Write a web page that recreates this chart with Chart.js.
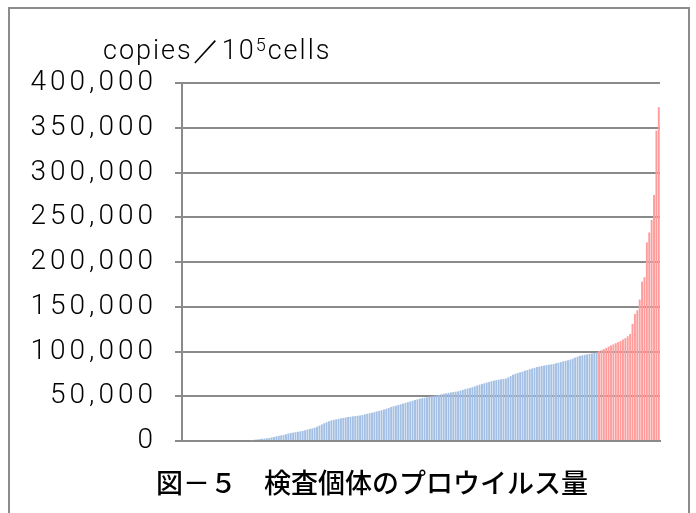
<!DOCTYPE html>
<html>
<head>
<meta charset="utf-8">
<script src="https://cdn.jsdelivr.net/npm/chart.js@4/dist/chart.umd.min.js"></script>
<style>
  html, body { margin: 0; padding: 0; background: #fff; }
  #wrap { position: relative; width: 696px; height: 513px; }
</style>
</head>
<body>
<div id="wrap"><canvas id="c" width="696" height="513"></canvas></div>
<script>
// Proviral load of each tested animal, sorted ascending (copies per 10^5 cells)
const provirusLoad = [
  0, 0, 0, 0, 0, 0, 0, 0, 0, 0,
  0, 0, 0, 0, 0, 0, 0, 0, 0, 0,
  0, 0, 0, 0, 0, 0, 0, 0, 0, 800,
  1500, 1800, 2200, 2500, 2800, 3000, 3400, 4000, 4500, 5200,
  5800, 6300, 6800, 7500, 8400, 9000, 9400, 9800, 10300, 10800,
  11300, 12000, 12800, 13500, 14100, 14800, 16000, 17200, 18500, 19800,
  21000, 22200, 23000, 23600, 24200, 24800, 25300, 25800, 26300, 26800,
  27100, 27500, 27900, 28200, 28500, 29000, 29800, 30500, 31100, 31700,
  32300, 33000, 33600, 34300, 35200, 36000, 37000, 38000, 38800, 39500,
  40300, 41000, 41800, 42600, 43400, 44200, 45000, 45800, 46500, 47200,
  47800, 48400, 49000, 49600, 50100, 50500, 51000, 51500, 52200, 52800,
  53300, 53800, 54200, 54700, 55100, 55500, 56300, 57100, 58000, 58700,
  59300, 60200, 61000, 62000, 63000, 63700, 64500, 65300, 66000, 66800,
  67500, 68000, 68500, 69000, 69400, 69800, 71000, 72500, 74000, 75000,
  76000, 76800, 77600, 78500, 79300, 80200, 81000, 81800, 82600, 83200,
  83800, 84300, 84800, 85200, 85600, 86000, 86800, 87500, 88200, 89000,
  89500, 90200, 91000, 92000, 93200, 94300, 95200, 95800, 96300, 96800,
  97300, 97800, 98400, 99000, 100300, 101500, 102800, 104000, 105500, 106800,
  108000, 109300, 110500, 111800, 113500, 115000, 117000, 119500, 131000, 142000,
  146000, 158000, 178000, 183000, 222000, 233000, 247000, 275000, 347000, 373000
];

// One (unlabelled) category per animal
const animals = provirusLoad.map((_, i) => String(i + 1));

// Value axis ticks
const yTicks = [0, 50000, 100000, 150000, 200000, 250000, 300000, 350000, 400000];

// Animals at or above this load are drawn in red
const highLoadThreshold = 100000;

const axisTitle = { main: 'copies\uFF0F10', sup: '5', tail: 'cells' };
const figureCaption = '図－５　検査個体のプロウイルス量';

const GRID = '#8a8a8a';
const LIGHT_FONT = 'Roboto, "DejaVu Sans", sans-serif';

const framePlugin = {
  id: 'frame',
  beforeDraw(chart) {
    const ctx = chart.ctx;
    ctx.save();
    ctx.fillStyle = '#fff';
    ctx.fillRect(0, 0, chart.width, chart.height);
    ctx.strokeStyle = '#8c8c8c';
    ctx.lineWidth = 2;
    ctx.strokeRect(9, 8, 680, 520);
    ctx.restore();
    // airy spacing for the numeric tick labels
    ctx.letterSpacing = '4px';
  },
  afterDraw(chart) {
    const ctx = chart.ctx;
    ctx.save();
    ctx.fillStyle = '#000';
    ctx.textBaseline = 'alphabetic';
    ctx.textAlign = 'left';
    // axis title with superscript exponent
    ctx.letterSpacing = '2px';
    ctx.font = '300 27px ' + LIGHT_FONT;
    let x = 103, y = 59;
    ctx.fillText(axisTitle.main, x, y);
    x += ctx.measureText(axisTitle.main).width;
    ctx.font = '300 18px ' + LIGHT_FONT;
    ctx.fillText(axisTitle.sup, x, y - 8);
    x += ctx.measureText(axisTitle.sup).width;
    ctx.font = '300 27px ' + LIGHT_FONT;
    ctx.fillText(axisTitle.tail, x, y);
    // caption below the plot
    ctx.letterSpacing = '0px';
    ctx.font = '500 27px "Noto Sans CJK JP", sans-serif';
    ctx.textAlign = 'center';
    ctx.textBaseline = 'middle';
    ctx.fillText(figureCaption, 372, 483);
    ctx.restore();
  }
};

new Chart(document.getElementById('c'), {
  type: 'bar',
  data: {
    labels: animals,
    datasets: [{
      data: provirusLoad,
      backgroundColor: provirusLoad.map(v => v >= highLoadThreshold ? '#ff9c9c' : '#a3bfe3'),
      borderWidth: 0,
      barPercentage: 0.8,
      categoryPercentage: 1.0
    }]
  },
  options: {
    responsive: false,
    animation: false,
    layout: { padding: { left: 10, right: 36, top: 83, bottom: 64 } },
    plugins: {
      legend: { display: false },
      tooltip: { enabled: false },
      title: { display: false }
    },
    scales: {
      x: {
        type: 'category',
        grid: { display: false },
        ticks: { display: false },
        border: { display: true, color: GRID, width: 2 }
      },
      y: {
        min: 0,
        max: 400000,
        afterBuildTicks(scale) {
          scale.ticks = yTicks.map(v => ({ value: v }));
        },
        afterFit(scale) { scale.width = 172; },
        grid: { color: GRID, lineWidth: 2, tickLength: 7, drawTicks: true },
        border: { display: true, color: GRID, width: 2 },
        ticks: {
          padding: 18,
          color: '#000',
          font: { family: LIGHT_FONT, size: 28, weight: 300 },
          callback: v => v.toLocaleString('en-US')
        }
      }
    }
  },
  plugins: [framePlugin]
});
</script>
</body>
</html>
